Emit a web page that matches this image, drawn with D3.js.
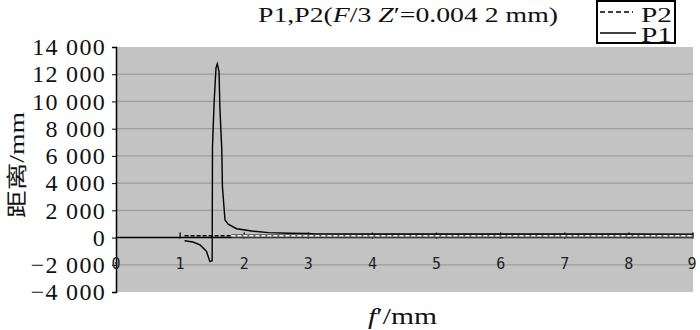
<!DOCTYPE html>
<html>
<head>
<meta charset="utf-8">
<script src="https://cdn.jsdelivr.net/npm/d3@7"></script>
<style>
  body { margin: 0; background: #fff; }
  svg { display: block; }
</style>
</head>
<body>
<svg id="chart" width="700" height="330"></svg>
<script>
// data
const p1X = [1.07, 1.2, 1.31, 1.41, 1.465, 1.50, 1.505, 1.53, 1.56, 1.58, 1.607, 1.62, 1.65, 1.66, 1.70, 1.75, 1.88, 2.12, 2.38, 2.7, 3.0, 3.1, 4, 5, 6, 7, 8, 9];
const p1Y = [-230, -330, -540, -1000, -1770, -1700, 6680, 9900, 12470, 12760, 12200, 9600, 6440, 3740, 1290, 980, 650, 480, 360, 320, 300, 270, 265, 262, 260, 258, 256, 255];
const p2X = [1.07, 1.3, 1.5, 1.8, 2, 2.5, 3, 4, 5, 6, 7, 8, 9];
const p2Y = [130, 130, 130, 130, 130, 130, 130, 130, 130, 130, 130, 130, 130];
const yTicks = [-4000, -2000, 0, 2000, 4000, 6000, 8000, 10000, 12000, 14000];
const xTicks = [0, 1, 2, 3, 4, 5, 6, 7, 8, 9];

const svg = d3.select("#chart");
const m = {left: 116, right: 7, top: 47, bottom: 38};
const W = 700, H = 330;
const serif = "'Liberation Serif', 'Times New Roman', serif";

const x = d3.scaleLinear().domain([0, 9]).range([m.left, W - m.right]);
const y = d3.scaleLinear().domain([-4000, 14000]).range([H - m.bottom, m.top]);

// thousands with a space, real minus sign
function fmt(v) {
    let s = Math.abs(v).toString();
    if (s.length > 3) s = s.slice(0, -3) + " " + s.slice(-3);
    return (v < 0 ? "\u2212" : "") + s;
}

// plot background
svg.append("rect")
    .attr("x", x(0)).attr("y", y(14000))
    .attr("width", x(9) - x(0)).attr("height", y(-4000) - y(14000))
    .attr("fill", "#c3c3c3");

// grid
svg.append("g")
    .selectAll("line")
    .data(yTicks.filter(d => d != 0 && d != 14000 && d != -4000))
    .join("line")
    .attr("x1", x(0)).attr("x2", x(9))
    .attr("y1", d => y(d)).attr("y2", d => y(d))
    .attr("stroke", "#9c9c9c")
    .attr("stroke-width", 1.2);

// y axis
const yAxis = svg.append("g")
    .attr("transform", `translate(${x(0)},0)`)
    .call(d3.axisLeft(y).tickValues(yTicks).tickFormat(fmt).tickSize(4).tickPadding(6));
yAxis.attr("font-family", null).attr("font-size", null);
yAxis.select(".domain").attr("stroke", "#000").attr("stroke-width", 1.5);
yAxis.selectAll(".tick line").attr("stroke", "#000");
yAxis.selectAll("text")
    .style("font-family", serif)
    .style("font-size", "24px")
    .style("letter-spacing", "1.3px")
    .attr("fill", "#111");

// x axis line at 0 with upward ticks
svg.append("line")
    .attr("x1", x(0)).attr("x2", x(9))
    .attr("y1", y(0)).attr("y2", y(0))
    .attr("stroke", "#000").attr("stroke-width", 1.5);
svg.append("g")
    .selectAll("line")
    .data(xTicks.filter(d => d > 0))
    .join("line")
    .attr("x1", d => x(d)).attr("x2", d => x(d))
    .attr("y1", y(0) - 5).attr("y2", y(0) + 1)
    .attr("stroke", "#000").attr("stroke-width", 1.3);

// x tick labels sit on the -2000 gridline
svg.append("g")
    .selectAll("text")
    .data(xTicks)
    .join("text")
    .attr("x", d => d == 9 ? x(d) - 1 : x(d))
    .attr("y", y(-2000) + 4)
    .attr("text-anchor", "middle")
    .style("font-family", "'DejaVu Sans Mono', monospace")
    .style("font-size", "15px")
    .attr("fill", "#222")
    .text(d => d);

// P2 dashed
const p2 = p2X.map((v, i) => [v, p2Y[i]]);
const line = d3.line().x(d => x(d[0])).y(d => y(d[1]));
const p2a = p2.filter(d => d[0] <= 1.8);
const p2b = p2.filter(d => d[0] >= 1.8);
svg.append("path").datum(p2b).attr("d", line)
    .attr("fill", "none").attr("stroke", "#6a6a6a").attr("stroke-width", 3.5);
svg.append("path").datum(p2b).attr("d", line)
    .attr("fill", "none").attr("stroke", "#f2f2f2").attr("stroke-width", 1.5)
    .attr("stroke-dasharray", "4,2");
svg.append("path").datum(p2a).attr("d", line)
    .attr("fill", "none").attr("stroke", "#000").attr("stroke-width", 1.5)
    .attr("stroke-dasharray", "4,2");

// P1 solid
const p1 = p1X.map((v, i) => [v, p1Y[i]]);
svg.append("path").datum(p1).attr("d", line)
    .attr("fill", "none").attr("stroke", "#000").attr("stroke-width", 1.4);

// title
const title = svg.append("text")
    .attr("x", 258).attr("y", 22)
    .attr("textLength", 300)
    .attr("lengthAdjust", "spacingAndGlyphs")
    .style("font-family", serif)
    .style("font-size", "21px")
    .attr("fill", "#111");
title.append("tspan").text("P1,P2(");
title.append("tspan").style("font-style", "italic").text("F");
title.append("tspan").text("/3 ");
title.append("tspan").style("font-style", "italic").text("Z");
title.append("tspan").text("\u2032=0.004 2 mm)");

// legend
const lg = svg.append("g");
lg.append("rect")
    .attr("x", 597).attr("y", 1).attr("width", 78).attr("height", 42)
    .attr("fill", "#fff").attr("stroke", "#000").attr("stroke-width", 2);
lg.append("line")
    .attr("x1", 600).attr("x2", 633).attr("y1", 12).attr("y2", 12)
    .attr("stroke", "#000").attr("stroke-width", 1.5).attr("stroke-dasharray", "5,3");
lg.append("line")
    .attr("x1", 600).attr("x2", 636).attr("y1", 33).attr("y2", 33)
    .attr("stroke", "#000").attr("stroke-width", 1.5);
lg.selectAll("text")
    .data(["P2", "P1"])
    .join("text")
    .attr("x", 641)
    .attr("y", (d, i) => i == 0 ? 22 : 42)
    .attr("textLength", 31)
    .attr("lengthAdjust", "spacingAndGlyphs")
    .style("font-family", serif)
    .style("font-size", "20px")
    .attr("fill", "#111")
    .text(d => d);

// axis titles
const yt = svg.append("text")
    .attr("transform", `translate(24,165) rotate(-90)`)
    .attr("text-anchor", "middle")
    .attr("textLength", 106)
    .attr("lengthAdjust", "spacingAndGlyphs")
    .style("font-family", "'Noto Sans CJK SC', sans-serif")
    .style("font-size", "21px")
    .attr("fill", "#111");
yt.append("tspan").text("距离");
yt.append("tspan").style("font-family", serif).text("/mm");

const xt = svg.append("text")
    .attr("x", 368).attr("y", 324)
    .attr("textLength", 69)
    .attr("lengthAdjust", "spacingAndGlyphs")
    .style("font-family", serif)
    .style("font-size", "24px")
    .attr("fill", "#111");
xt.append("tspan").style("font-style", "italic").text("f");
xt.append("tspan").text("\u2032/mm");
</script>
</body>
</html>
